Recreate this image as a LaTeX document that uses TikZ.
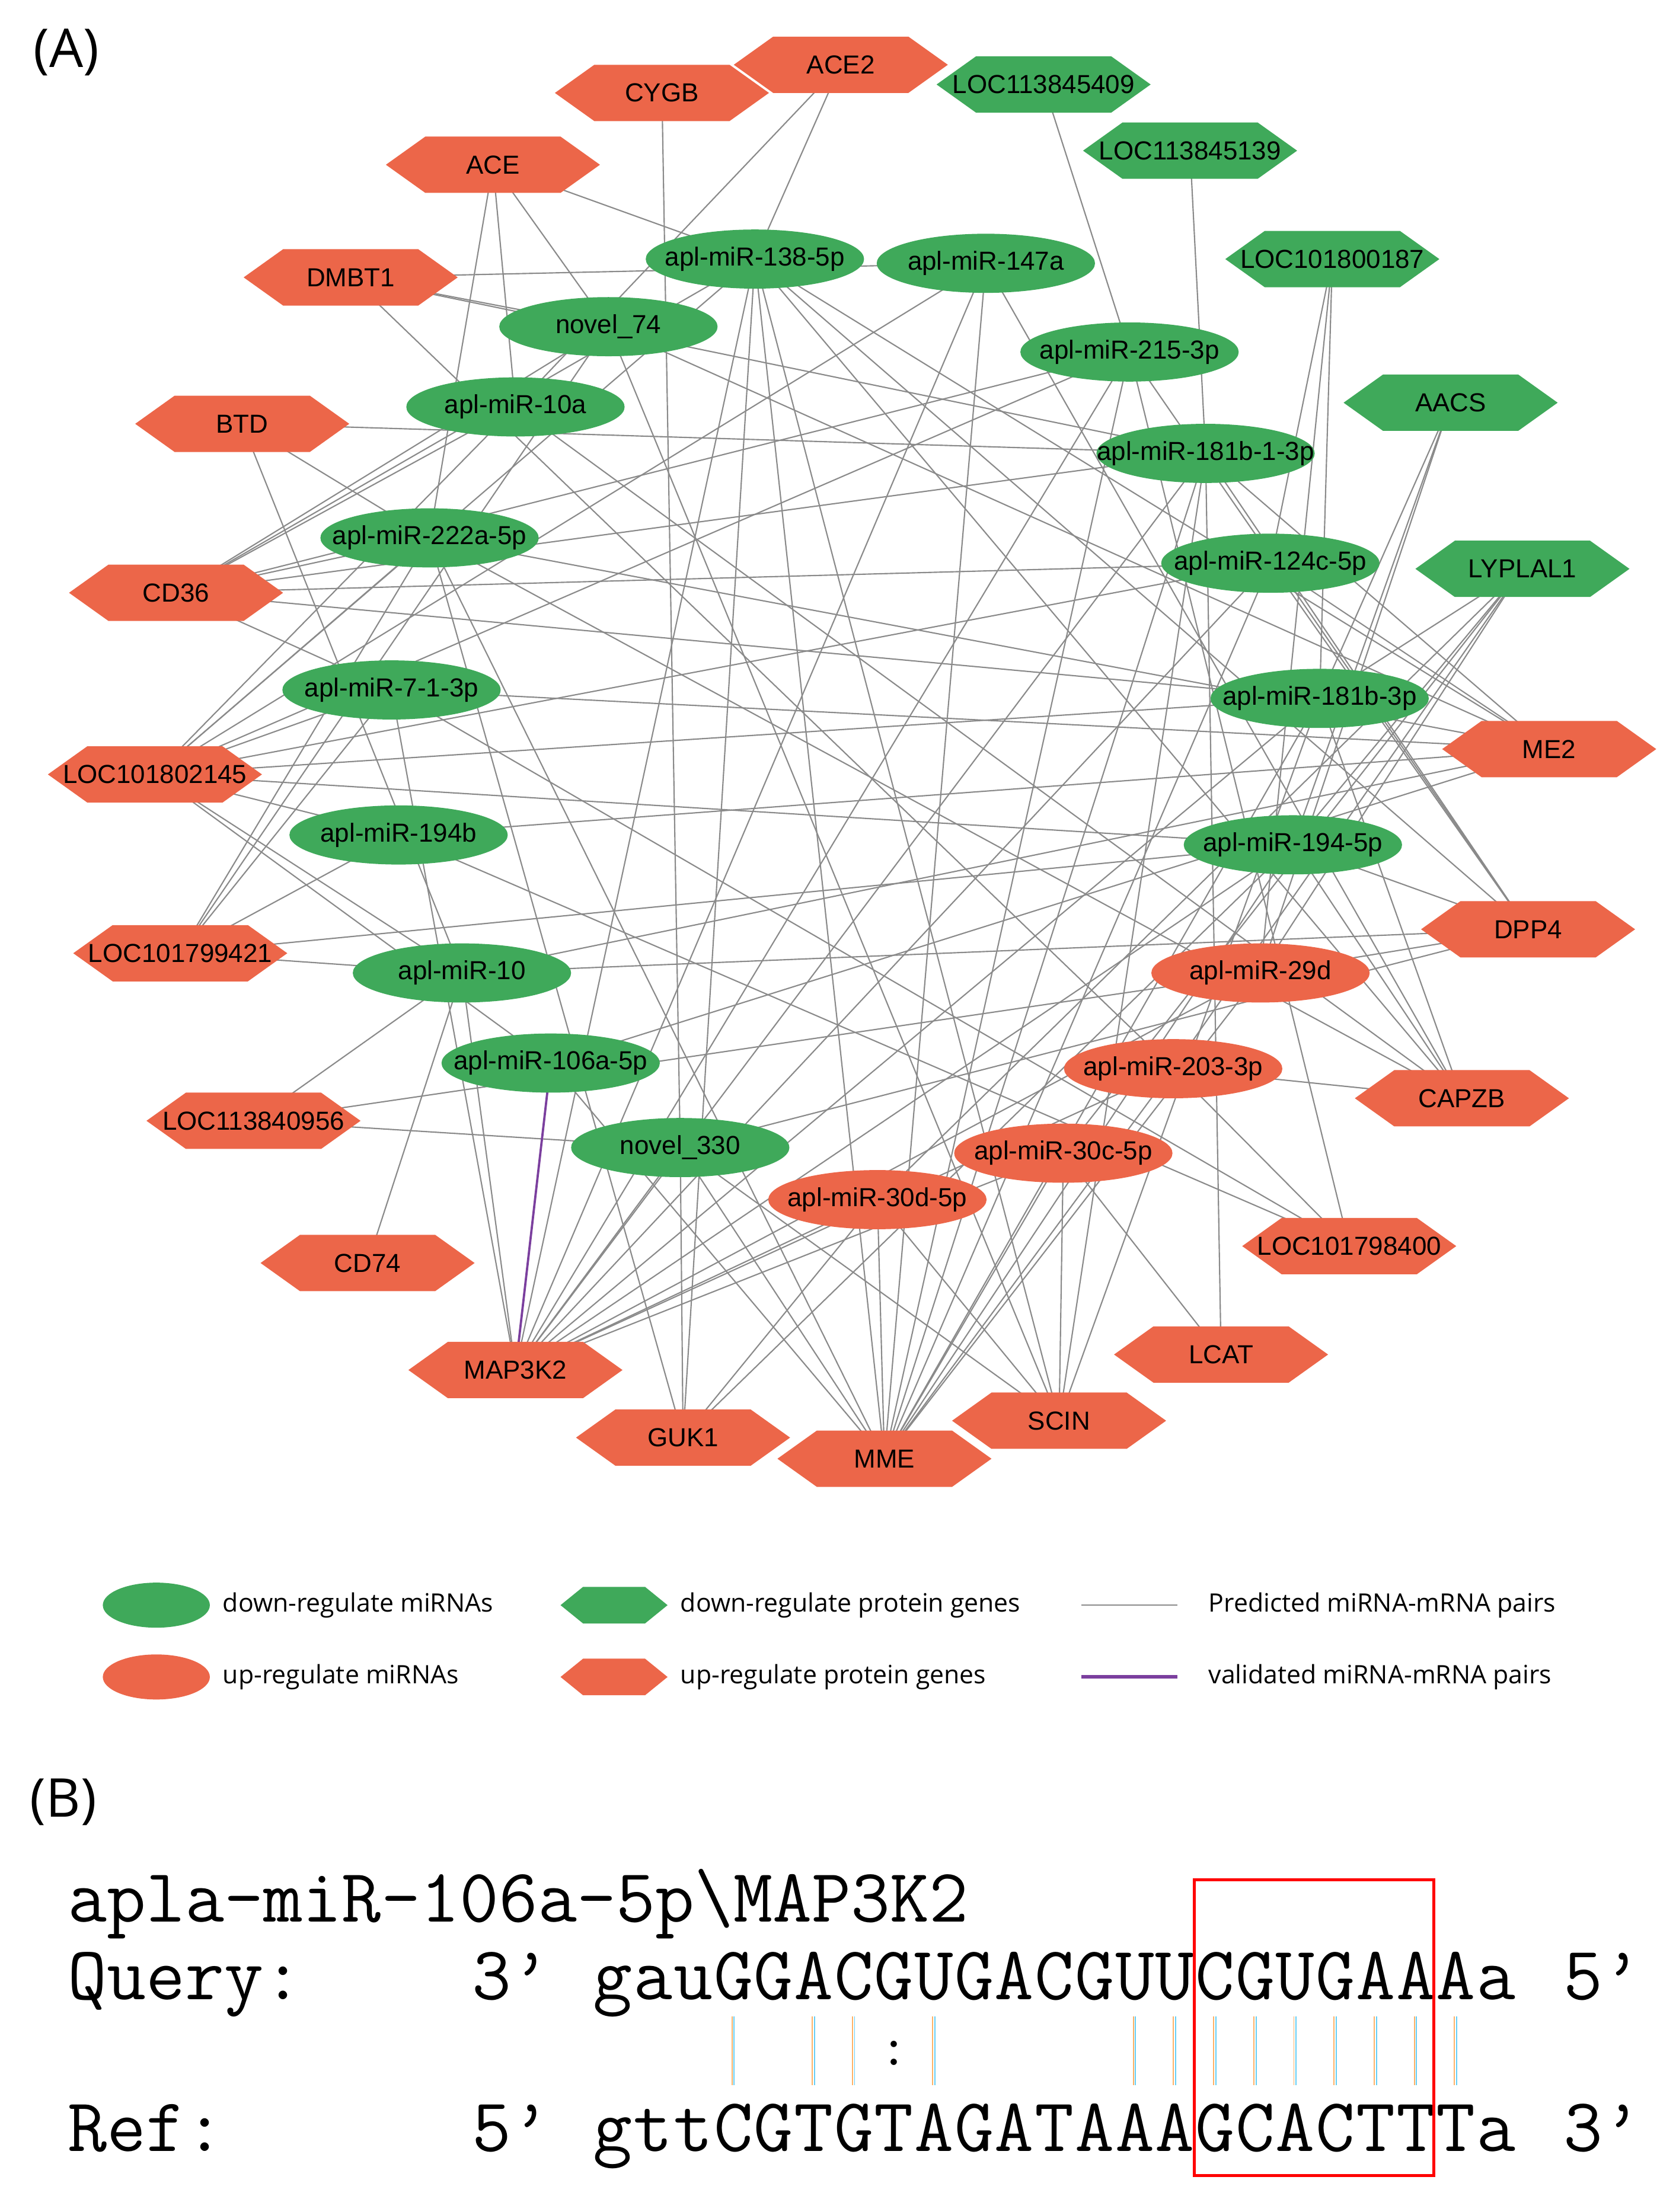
\documentclass[tikz,border=0pt]{standalone}
\usepackage{fontspec}
\setmainfont{Liberation Sans}
\newfontfamily\lgf{Open Sans}
\usetikzlibrary{shapes.geometric,backgrounds}
\definecolor{org}{HTML}{EC6649}
\definecolor{grn}{HTML}{3FA95A}
\definecolor{edg}{HTML}{8A8A8A}
\definecolor{vio}{HTML}{7B3F9E}
\newcommand\zb[1]{\makebox[0pt]{#1}}
\tikzset{
 mi/.style={ellipse,minimum width=155pt,minimum height=42pt,inner sep=0pt,font=\fontsize{18.5}{18.5}\selectfont},
 lbl/.style={inner sep=0pt,font=\fontsize{18.5}{18.5}\selectfont},
 e/.style={draw=edg,line width=0.9pt},
 lg/.style={font=\lgf\fontsize{18}{18}\selectfont,anchor=west,inner sep=0pt},
 mono/.style={font=\ttfamily\fontsize{54}{54}\selectfont,anchor=base west,inner sep=0pt},
}
\newcommand\hexn[5]{%
 \fill[#4] ({#2-76},#3) -- ({#2-48},{#3-20}) -- ({#2+48},{#3-20}) -- ({#2+76},#3) -- ({#2+48},{#3+20}) -- ({#2-48},{#3+20}) -- cycle;
 \node[lbl] (#1) at (#2,#3) {#5};}
\begin{document}
\begin{tikzpicture}[x=1pt,y=-1pt]
\useasboundingbox (0,0) rectangle (1190,1571);
\node[font=\lgf\fontsize{38}{38}\selectfont,inner sep=0pt] (labA) at (47,37) {(A)};
% genes
\hexn{CYGB}{470}{66}{org}{CYGB}
\hexn{ACEtwo}{597}{46}{org}{ACE2}
\hexn{ACE}{350}{117}{org}{ACE}
\hexn{DMBT}{249}{197}{org}{DMBT1}
\hexn{BTD}{172}{301}{org}{BTD}
\hexn{CDts}{125}{421}{org}{CD36}
\hexn{Ltwo}{110}{550}{org}{LOC101802145}
\hexn{Lnine}{128}{677}{org}{LOC101799421}
\hexn{Lfive}{180}{796}{org}{LOC113840956}
\hexn{CDsf}{261}{897}{org}{CD74}
\hexn{MAP}{366}{973}{org}{MAP3K2}
\hexn{GUK}{485}{1021}{org}{GUK1}
\hexn{MME}{628}{1036}{org}{MME}
\hexn{SCIN}{752}{1009}{org}{SCIN}
\hexn{LCAT}{867}{962}{org}{LCAT}
\hexn{Lfour}{958}{885}{org}{LOC101798400}
\hexn{CAPZB}{1038}{780}{org}{CAPZB}
\hexn{DPP}{1085}{660}{org}{DPP4}
\hexn{ME}{1100}{532}{org}{ME2}
\hexn{Gnine}{741}{60}{grn}{LOC113845409}
\hexn{Gthree}{845}{107}{grn}{LOC113845139}
\hexn{Gseven}{946}{184}{grn}{LOC101800187}
\hexn{AACS}{1030}{286}{grn}{AACS}
\hexn{LYP}{1081}{404}{grn}{LYPLAL1}
% miRNAs
\node[mi,fill=grn] (m138) at (536,184) {\zb{apl-miR-138-5p}};
\node[mi,fill=grn] (m147) at (700,187) {\zb{apl-miR-147a}};
\node[mi,fill=grn] (n74) at (432,232) {\zb{novel\_74}};
\node[mi,fill=grn] (m215) at (802,250) {\zb{apl-miR-215-3p}};
\node[mi,fill=grn] (m10a) at (366,289) {\zb{apl-miR-10a}};
\node[mi,fill=grn] (m181a) at (856,322) {\zb{apl-miR-181b-1-3p}};
\node[mi,fill=grn] (m222) at (305,382) {\zb{apl-miR-222a-5p}};
\node[mi,fill=grn] (m124) at (902,400) {\zb{apl-miR-124c-5p}};
\node[mi,fill=grn] (m7) at (278,490) {\zb{apl-miR-7-1-3p}};
\node[mi,fill=grn] (m181) at (937,496) {\zb{apl-miR-181b-3p}};
\node[mi,fill=grn] (m194b) at (283,593) {\zb{apl-miR-194b}};
\node[mi,fill=grn] (m194) at (918,600) {\zb{apl-miR-194-5p}};
\node[mi,fill=grn] (m10) at (328,691) {\zb{apl-miR-10}};
\node[mi,fill=grn] (m106) at (391,755) {\zb{apl-miR-106a-5p}};
\node[mi,fill=grn] (n330) at (483,815) {\zb{novel\_330}};
\node[mi,fill=org] (m29) at (895,691) {\zb{apl-miR-29d}};
\node[mi,fill=org] (m203) at (833,759) {\zb{apl-miR-203-3p}};
\node[mi,fill=org] (m30c) at (755,819) {\zb{apl-miR-30c-5p}};
\node[mi,fill=org] (m30d) at (623,852) {\zb{apl-miR-30d-5p}};
\begin{scope}[on background layer]
\foreach \a/\b in {m138/ACEtwo,m138/ACE,m138/CDts,m138/Ltwo,m138/MAP,m138/MME,m138/GUK,m138/ME,m138/DPP,m138/CAPZB,m138/SCIN,
 m147/Ltwo,m147/MAP,m147/MME,m147/DMBT,m147/CAPZB,
 n74/DMBT,n74/ACE,n74/CDts,n74/Lnine,n74/ME,n74/SCIN,
 m215/Gnine,m215/CDts,m215/Ltwo,m215/MME,m215/MAP,m215/DPP,m215/Lfour,
 m10a/ACE,m10a/ACEtwo,m10a/CDts,m10a/Ltwo,m10a/CAPZB,
 m181a/Gthree,m181a/BTD,m181a/CDts,m181a/MAP,m181a/MME,m181a/SCIN,m181a/LCAT,m181a/ME,m181a/DPP,m181a/DMBT,
 m222/ACE,m222/BTD,m222/CDts,m222/Ltwo,m222/Lnine,m222/MME,m222/ME,m222/CAPZB,m222/GUK,
 m124/Gseven,m124/MAP,m124/MME,m124/ME,m124/DPP,m124/Ltwo,m124/CDts,
 m7/CDts,m7/Ltwo,m7/Lnine,m7/MAP,m7/ME,m7/Lfour,
 m181/Gseven,m181/AACS,m181/LYP,m181/CDts,m181/Ltwo,m181/MME,m181/SCIN,m181/MAP,m181/CAPZB,
 m194b/Ltwo,m194b/Lnine,m194b/ME,m194b/Lfour,
 m194/AACS,m194/LYP,m194/Lnine,m194/DPP,m194/CAPZB,m194/MME,m194/MAP,m194/GUK,m194/Ltwo,
 m10/Ltwo,m10/Lnine,m10/Lfive,m10/CDsf,m10/MAP,m10/DPP,m10/ME,m10/BTD,
 m106/Ltwo,m106/ME,m106/MME,
 n330/CYGB,n330/MAP,n330/GUK,n330/MME,n330/SCIN,n330/Lfive,n330/DPP,
 m29/LYP,m29/AACS,m29/DPP,m29/MME,m29/MAP,m29/Lfive,m29/Gseven,
 m203/LYP,m203/CAPZB,m203/Lfour,m203/MME,m203/MAP,m203/DMBT,
 m30c/LCAT,m30c/SCIN,m30c/MME,m30c/MAP,m30c/LYP,
 m30d/MME,m30d/SCIN,m30d/MAP,m30d/GUK,m30d/LYP}
 {\draw[e] (\a.center) -- (\b.center);}
\draw[draw=vio,line width=1.6pt] (m106.center) -- (MAP.center);
\end{scope}
% legend
\node[ellipse,fill=grn,minimum width=76pt,minimum height=32pt,inner sep=0pt] (lg1) at (111,1140) {};
\node[lg] (lt1) at (158,1140) {down-regulate miRNAs};
\node[ellipse,fill=org,minimum width=76pt,minimum height=32pt,inner sep=0pt] (lg2) at (111,1191) {};
\node[lg] (lt2) at (158,1191) {up-regulate miRNAs};
\fill[grn] (398,1140) -- (414,1127) -- (458,1127) -- (474,1140) -- (458,1153) -- (414,1153) -- cycle;
\node[lg] (lt3) at (483,1140) {down-regulate protein genes};
\fill[org] (398,1191) -- (414,1178) -- (458,1178) -- (474,1191) -- (458,1204) -- (414,1204) -- cycle;
\node[lg] (lt4) at (483,1191) {up-regulate protein genes};
\coordinate (p1) at (768,1140); \coordinate (p2) at (836,1140);
\draw[e] (p1) -- (p2);
\node[lg] (lt5) at (858,1140) {Predicted miRNA-mRNA pairs};
\coordinate (q1) at (768,1191); \coordinate (q2) at (836,1191);
\draw[vio,line width=2.4pt] (q1) -- (q2);
\node[lg] (lt6) at (858,1191) {validated miRNA-mRNA pairs};
% part B
\node[font=\lgf\fontsize{38}{38}\selectfont,inner sep=0pt] (labB) at (45,1280) {(B)};
\node[mono] (t0) at (48,1365) {apla-miR-106a-5p\textbackslash MAP3K2};
\node[mono] (t1) at (48,1420) {Query:};
\node[mono] (t2) at (335,1420) {3’};
\node[mono] (t3) at (1110,1420) {5’};
\node[mono] (t4) at (48,1528) {Ref:};
\node[mono] (t5) at (335,1528) {5’};
\node[mono] (t6) at (1110,1528) {3’};
\foreach \c [count=\i from 0] in {g,a,u,G,G,A,C,G,U,G,A,C,G,U,U,C,G,U,G,A,A,A,a}
 \node[font=\ttfamily\fontsize{54}{54}\selectfont,anchor=base,inner sep=0pt] (q\i) at ({421+28.5*\i+14.25},1420) {\c};
\foreach \c [count=\i from 0] in {g,t,t,C,G,T,G,T,A,G,A,T,A,A,A,G,C,A,C,T,T,T,a}
 \node[font=\ttfamily\fontsize{54}{54}\selectfont,anchor=base,inner sep=0pt] (r\i) at ({421+28.5*\i+14.25},1528) {\c};
\foreach \i in {3,5,6,8,13,14,15,16,17,18,19,20,21}{
 \draw[color=orange!60,line width=0.8pt] ({421+28.5*\i+13.2},1432) -- ({421+28.5*\i+13.2},1481);
 \draw[color=cyan!60,line width=0.8pt] ({421+28.5*\i+14.8},1432) -- ({421+28.5*\i+14.8},1481);}
\node[font=\ttfamily\fontsize{40}{40}\selectfont,anchor=center,inner sep=0pt] (col) at ({421+28.5*7+14.25},1458) {:};
\draw[red,line width=2pt] (848,1335) rectangle (1018,1545);
\end{tikzpicture}
\end{document}
